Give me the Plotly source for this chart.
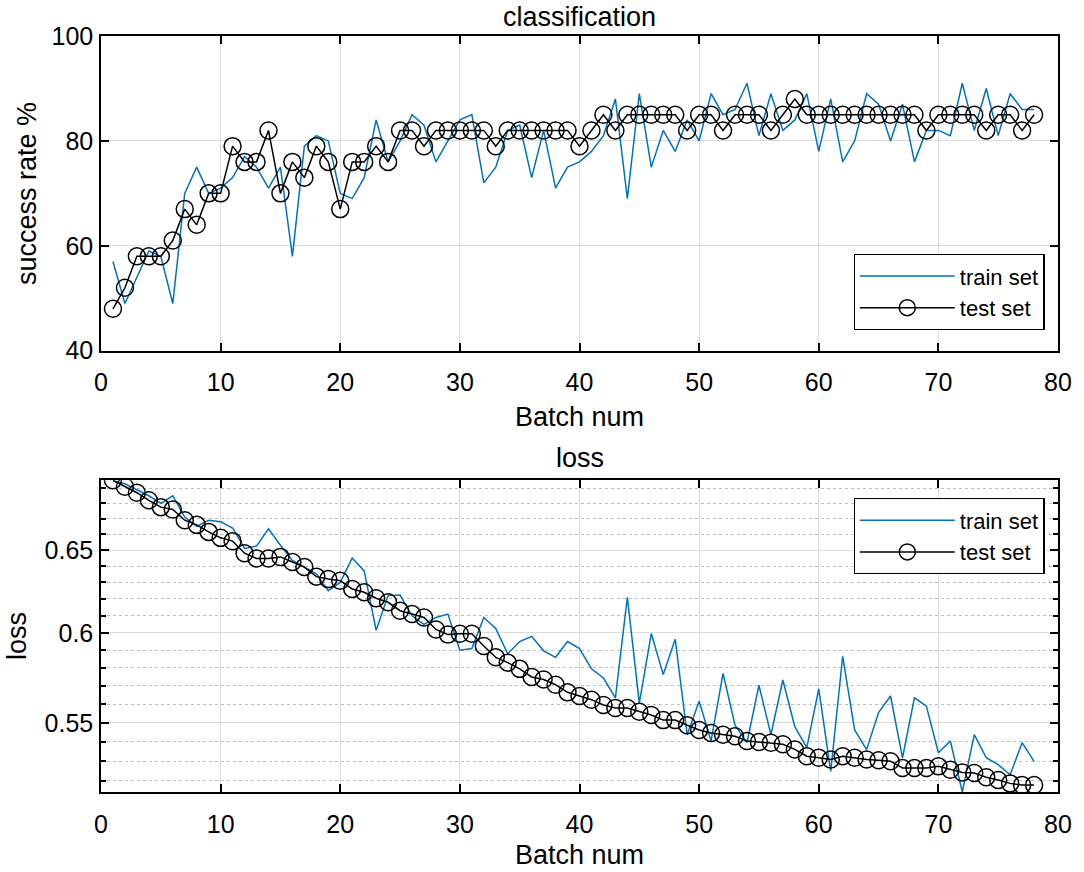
import math
import plotly.graph_objects as go

batch = list(range(1, 79))

train_acc = [57, 49, 54, 59, 58, 49, 70, 75, 70, 71,
             73, 77, 75, 71, 75, 58, 79, 81, 80, 70,
             69, 73, 84, 76, 80, 85, 83, 76, 80, 84,
             85, 72, 75, 82, 83, 73, 82, 71, 75, 76,
             78, 81, 88, 69, 89, 75, 82, 78, 84, 80,
             89, 85, 86, 91, 81, 89, 82, 84, 89, 78,
             88, 76, 80, 89, 87, 80, 87, 76, 82, 82,
             81, 91, 82, 90, 81, 89, 86, 86]

test_acc = [48, 52, 58, 58, 58, 61, 67, 64, 70, 70,
            79, 76, 76, 82, 70, 76, 73, 79, 76, 67,
            76, 76, 79, 76, 82, 82, 79, 82, 82, 82,
            82, 82, 79, 82, 82, 82, 82, 82, 82, 79,
            82, 85, 82, 85, 85, 85, 85, 85, 82, 85,
            85, 82, 85, 85, 85, 82, 85, 88, 85, 85,
            85, 85, 85, 85, 85, 85, 85, 85, 82, 85,
            85, 85, 85, 82, 85, 85, 82, 85]

train_loss = [0.695, 0.693, 0.689, 0.685, 0.680, 0.685, 0.671, 0.665, 0.669, 0.668,
              0.664, 0.651, 0.6525, 0.6635, 0.653, 0.6435, 0.6394, 0.6352, 0.625, 0.630,
              0.645, 0.637, 0.6015, 0.622, 0.6223, 0.610, 0.605, 0.609, 0.611, 0.590,
              0.591, 0.609, 0.6025, 0.588, 0.595, 0.598, 0.5897, 0.586, 0.595, 0.591,
              0.5795, 0.5744, 0.5635, 0.621, 0.5606, 0.5996, 0.5763, 0.5963, 0.5438, 0.5616,
              0.5405, 0.577, 0.5488, 0.5396, 0.5704, 0.5438, 0.5733, 0.548, 0.537, 0.5684,
              0.5248, 0.5866, 0.5463, 0.536, 0.5555, 0.5645, 0.5318, 0.5635, 0.559, 0.5344,
              0.5405, 0.5145, 0.5438, 0.5318, 0.5283, 0.5231, 0.5396, 0.530]

test_loss = [0.6953, 0.691, 0.687, 0.682, 0.6775, 0.676, 0.669, 0.666, 0.6615, 0.6577,
             0.6556, 0.648, 0.6447, 0.6447, 0.6457, 0.6425, 0.6394, 0.6335, 0.632, 0.631,
             0.626, 0.624, 0.6204, 0.618, 0.613, 0.611, 0.609, 0.602, 0.599, 0.5995,
             0.5995, 0.5924, 0.586, 0.583, 0.5795, 0.575, 0.5736, 0.5707, 0.5665, 0.5645,
             0.5625, 0.5596, 0.558, 0.558, 0.556, 0.5542, 0.5515, 0.5515, 0.5488, 0.5463,
             0.5447, 0.5438, 0.543, 0.5405, 0.540, 0.5396, 0.5388, 0.5361, 0.5326, 0.5318,
             0.5309, 0.5326, 0.5318, 0.5309, 0.5305, 0.530, 0.5266, 0.5266, 0.5266, 0.5274,
             0.5257, 0.5243, 0.524, 0.5219, 0.5205, 0.5188, 0.518, 0.518]

loss_major = [0.55, 0.6, 0.65]
loss_minor = [0.52, 0.53, 0.54, 0.56, 0.57, 0.58, 0.59,
              0.61, 0.62, 0.63, 0.64, 0.66, 0.67, 0.68, 0.69]

FONT = "Liberation Sans, Arial, sans-serif"
BLUE = "#0072BD"
GRID = "#DCDCDC"
TICK_SIZE = 25
LABEL_SIZE = 27

fig = go.Figure()

fig.add_trace(go.Scatter(x=batch, y=train_acc, mode="lines", name="train set",
                         line=dict(color=BLUE, width=1.5),
                         xaxis="x", yaxis="y", legend="legend"))
fig.add_trace(go.Scatter(x=batch, y=test_acc, mode="lines+markers", name="test set",
                         line=dict(color="black", width=1.5),
                         marker=dict(symbol="circle-open", size=17, color="black",
                                     line=dict(width=1.5)),
                         xaxis="x", yaxis="y", legend="legend"))
fig.add_trace(go.Scatter(x=batch, y=train_loss, mode="lines", name="train set",
                         line=dict(color=BLUE, width=1.5),
                         xaxis="x2", yaxis="y2", legend="legend2"))
fig.add_trace(go.Scatter(x=batch, y=test_loss, mode="lines+markers", name="test set",
                         line=dict(color="black", width=1.5),
                         marker=dict(symbol="circle-open", size=17, color="black",
                                     line=dict(width=1.5)),
                         xaxis="x2", yaxis="y2", legend="legend2"))

axis_common = dict(showline=True, linecolor="black", linewidth=1.5, mirror="ticks",
                   ticks="inside", ticklen=8, tickcolor="black", tickwidth=1.5,
                   showgrid=True, gridcolor=GRID, gridwidth=1, zeroline=False,
                   tickfont=dict(size=TICK_SIZE, color="black", family=FONT))

lo = min(train_loss + test_loss)
hi = max(train_loss + test_loss)

legend_style = dict(bordercolor="black", borderwidth=1.2, bgcolor="white",
                    font=dict(size=22, family=FONT), itemwidth=95)


def label(text, x, y, angle=0):
    return dict(text=text, x=x, y=y, xref="paper", yref="paper",
                xanchor="center", yanchor="middle", textangle=angle,
                showarrow=False, font=dict(size=LABEL_SIZE))


fig.update_layout(
    width=1084, height=872,
    margin=dict(l=100.5, r=17.5, t=36, b=80),
    paper_bgcolor="white", plot_bgcolor="white",
    font=dict(family=FONT, color="black"),
    xaxis=dict(domain=[0, 1], anchor="y", range=[0, 80], tick0=0, dtick=10,
               ticklabelstandoff=9, **axis_common),
    yaxis=dict(domain=[0.5837, 1], anchor="x", range=[40, 100], tick0=40, dtick=20,
               ticklabelstandoff=1, **axis_common),
    xaxis2=dict(domain=[0, 1], anchor="y2", range=[0, 80], tick0=0, dtick=10,
                ticklabelstandoff=9, **axis_common),
    yaxis2=dict(domain=[0, 0.4123], anchor="x2", type="log",
                range=[math.log10(lo), math.log10(hi)],
                tickmode="array", tickvals=loss_major,
                ticktext=[str(v) for v in loss_major],
                ticklabelstandoff=1,
                minor=dict(tickmode="array", tickvals=loss_minor, ticks="inside",
                           ticklen=5, tickcolor="black", showgrid=True,
                           gridcolor="#BEBEBE", griddash="dot", gridwidth=1),
                **axis_common),
    legend=dict(x=0.986, xanchor="right", y=0.611, yanchor="bottom", **legend_style),
    legend2=dict(x=0.986, xanchor="right", y=0.3885, yanchor="top", **legend_style),
    annotations=[
        label("classification", 0.5, 1.025),
        label("loss", 0.5, 0.4418),
        label("Batch num", 0.5, 0.496),
        label("Batch num", 0.5, -0.0833),
        label("success rate %", -0.0766, 0.792, -90),
        label("loss", -0.087, 0.206, -90),
    ],
)

# drop the page's default body margin so the figure fills the window exactly
fig.write_html("out.html", config={"displayModeBar": False},
               post_script="document.body.style.margin='0';")
